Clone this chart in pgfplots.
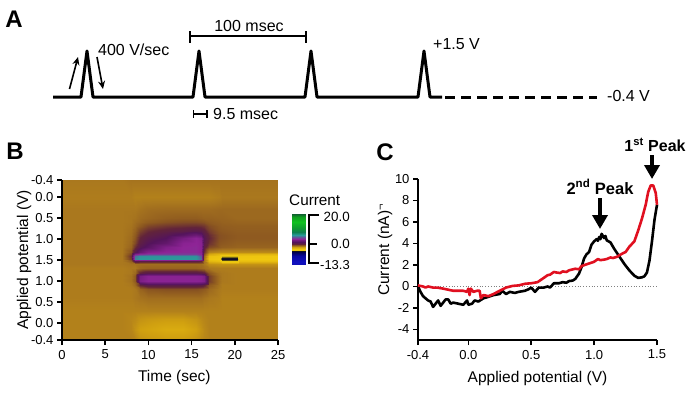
\documentclass[border=0pt]{standalone}
\usepackage{fontspec}
\setmainfont{Liberation Sans}
\usepackage{pgfplots}
\pgfplotsset{compat=1.18}
\usetikzlibrary{arrows.meta}
\pgfplotsset{
  colormap={cur}{
    rgb255(0pt)=(16,16,184);
    rgb255(13pt)=(16,16,192);
    rgb255(53pt)=(8,8,160);
    rgb255(81pt)=(0,0,80);
    rgb255(89pt)=(16,16,32);
    rgb255(94pt)=(232,200,16);
    rgb255(100pt)=(240,200,16);
    rgb255(111pt)=(208,160,16);
    rgb255(120pt)=(170,120,30);
    rgb255(127pt)=(138,85,32);
    rgb255(135pt)=(98,36,58);
    rgb255(145pt)=(84,20,92);
    rgb255(158pt)=(116,28,126);
    rgb255(168pt)=(142,36,150);
    rgb255(179pt)=(94,90,154);
    rgb255(193pt)=(42,154,154);
    rgb255(213pt)=(15,128,80);
    rgb255(243pt)=(15,154,48);
    rgb255(283pt)=(16,192,32);
    rgb255(313pt)=(16,160,32);
    rgb255(333pt)=(16,96,48);
  },
}
\begin{document}
\begin{tikzpicture}
\useasboundingbox (0,0) rectangle (690pt,394pt);
% overlay axis in picture pixels
\begin{axis}[at={(0pt,0pt)},anchor=south west,scale only axis,width=690pt,height=394pt,
  xmin=0,xmax=690,ymin=0,ymax=394,y dir=reverse,hide axis,clip=false]
% panel A waveform
\addplot[black,line width=3pt,line join=round] coordinates {(53,97)(81,97)(87,51)(93,97)(193,97)(199,51)(205,97)(305,97)(311,51)(317,97)(418,97)(424,51)(430,97)(442,97)};
\addplot[black,line width=3pt,dash pattern=on 10pt off 6pt] coordinates {(445,97)(597,97)};
\addplot[black,line width=1.6pt,-{Stealth[length=8pt,width=7pt]}] coordinates {(69.5,89)(78,57)};
\addplot[black,line width=1.6pt,-{Stealth[length=8pt,width=7pt]}] coordinates {(97,57)(103,89)};
\addplot[black,line width=1.5pt] coordinates {(190,31)(190,43)};
\addplot[black,line width=1.5pt] coordinates {(190,36)(306,36)};
\addplot[black,line width=1.5pt] coordinates {(306,31)(306,43)};
\addplot[black,line width=1.5pt] coordinates {(193.5,110)(193.5,118)};
\addplot[black,line width=1.5pt] coordinates {(193.5,114)(207,114)};
\addplot[black,line width=1.5pt] coordinates {(207,110)(207,118)};
% colour bar bracket
\addplot[black,line width=1.8pt] coordinates {(319,215)(309,215)(309,263)(319,263)};
\addplot[black,line width=1.8pt] coordinates {(309,244)(317,244)};
% arrows of panel C
\addplot[black,line width=4pt,-{Triangle[length=14pt,width=15pt]}] coordinates {(652,155)(652,179)};
\addplot[black,line width=4pt,-{Triangle[length=14pt,width=15pt]}] coordinates {(600,198)(600,229)};
% text
\node[font=\fontsize{24}{24}\selectfont\bfseries] at (axis cs:14,19) {A};
\node[font=\fontsize{24}{24}\selectfont\bfseries] at (axis cs:15,151) {B};
\node[font=\fontsize{24}{24}\selectfont\bfseries] at (axis cs:385,152) {C};
\node[font=\fontsize{16}{16}\selectfont,anchor=west,inner sep=0pt] at (axis cs:98,50) {400 V/sec};
\node[font=\fontsize{16}{16}\selectfont,anchor=center,inner sep=0pt] at (axis cs:249,26) {100 msec};
\node[font=\fontsize{16}{16}\selectfont,anchor=west,inner sep=0pt] at (axis cs:213,114) {9.5 msec};
\node[font=\fontsize{16}{16}\selectfont,anchor=west,inner sep=0pt] at (axis cs:433,44) {+1.5 V};
\node[font=\fontsize{16}{16}\selectfont,anchor=west,inner sep=0pt] at (axis cs:607,96) {-0.4 V};
\node[font=\fontsize{15.3}{16}\selectfont,anchor=west,inner sep=0pt] at (axis cs:289,200) {Current};
\node[font=\fontsize{13.4}{14}\selectfont,anchor=east,inner sep=0pt] at (axis cs:350,217) {20.0};
\node[font=\fontsize{13.4}{14}\selectfont,anchor=east,inner sep=0pt] at (axis cs:350,244) {0.0};
\node[font=\fontsize{13}{14}\selectfont,anchor=east,inner sep=0pt] at (axis cs:350,265) {-13.3};
\node[font=\fontsize{16.5}{17}\selectfont\bfseries,anchor=center,inner sep=0pt] at (axis cs:600,187) {2\textsuperscript{nd} Peak};
\node[font=\fontsize{16}{17}\selectfont\bfseries,anchor=center,inner sep=0pt] at (axis cs:655,145) {1\textsuperscript{st} Peak};
\end{axis}
% panel B
\begin{axis}[at={(62pt,54pt)},anchor=south west,scale only axis,width=216pt,height=160pt,
  view={0}{90},xmin=0,xmax=25,ymin=0,ymax=3.8,axis on top,
  colormap name=cur,point meta min=-13.3,point meta max=20,
  axis x line=bottom,axis y line=left,axis line style={-,line width=1.8pt},
  tick align=outside,major tick length=5pt,tick style={black,line width=1.5pt},
  xtick={0,5,10,15,20,25},
  ytick={0,0.4,0.9,1.4,1.9,2.4,2.9,3.4,3.8},
  yticklabels={-0.4,0.0,0.5,1.0,1.5,1.0,0.5,0.0,-0.4},
  /pgf/number format/assume math mode=true,
  tick label style={font=\fontsize{13}{13}\selectfont},
  xticklabel style={yshift=-1.5pt},
  xlabel={Time (sec)},ylabel={Applied potential (V)},
  label style={font=\fontsize{15.5}{16}\selectfont},
  xlabel style={at={(axis description cs:0.52,0)},anchor=center,yshift=-37pt},
  ylabel style={at={(axis description cs:0,0.5)},anchor=center,yshift=38pt},
]
\addplot3[surf,shader=interp,mesh/cols=17] coordinates {
(0,3.8,-1.3)(7,3.8,-1.3)(8,3.8,-1.2)(8.4,3.8,-1.2)(9,3.8,-1.2)(10,3.8,-1.2)(12,3.8,-1.2)(14,3.8,-1.2)(15.5,3.8,-1.2)(16.1,3.8,-1.2)(16.4,3.8,-1.2)(17,3.8,-1.2)(18.2,3.8,-1.2)(18.5,3.8,-1.2)(20.2,3.8,-1.2)(20.5,3.8,-1.2)(25,3.8,-1.2)
(0,3.4,-1.4)(7,3.4,-1.4)(8,3.4,-1.4)(8.4,3.4,-1.5)(9,3.4,-1.5)(10,3.4,-1.5)(12,3.4,-1.5)(14,3.4,-1.5)(15.5,3.4,-1.5)(16.1,3.4,-1.5)(16.4,3.4,-1.5)(17,3.4,-1.5)(18.2,3.4,-1.4)(18.5,3.4,-1.3)(20.2,3.4,-1.3)(20.5,3.4,-1.3)(25,3.4,-1.3)
(0,3.1,-1.3)(7,3.1,-1.3)(8,3.1,-1.3)(8.4,3.1,-1.3)(9,3.1,-1.2)(10,3.1,-1.1)(12,3.1,-1.05)(14,3.1,-1.05)(15.5,3.1,-1.05)(16.1,3.1,-1.05)(16.4,3.1,-1.05)(17,3.1,-1.05)(18.2,3.1,-1.0)(18.5,3.1,-1.0)(20.2,3.1,-1.0)(20.5,3.1,-1.0)(25,3.1,-1.0)
(0,2.9,-1.3)(7,2.9,-1.3)(8,2.9,-1.25)(8.4,2.9,-1.2)(9,2.9,-1.05)(10,2.9,-0.95)(12,2.9,-0.8)(14,2.9,-0.75)(15.5,2.9,-0.75)(16.1,2.9,-0.8)(16.4,2.9,-0.85)(17,2.9,-0.85)(18.2,2.9,-0.9)(18.5,2.9,-0.9)(20.2,2.9,-1)(20.5,2.9,-1)(25,2.9,-1)
(0,2.8,-1.3)(7,2.8,-1.3)(8,2.8,-1.25)(8.4,2.8,-1.1)(9,2.8,-0.95)(10,2.8,-0.75)(12,2.8,-0.55)(14,2.8,-0.45)(15.5,2.8,-0.45)(16.1,2.8,-0.5)(16.4,2.8,-0.55)(17,2.8,-0.7)(18.2,2.8,-0.8)(18.5,2.8,-0.85)(20.2,2.8,-0.9)(20.5,2.8,-0.9)(25,2.8,-0.9)
(0,2.7,-1.3)(7,2.7,-1.3)(8,2.7,-1.2)(8.4,2.7,-1)(9,2.7,-0.7)(10,2.7,-0.35)(12,2.7,-0.1)(14,2.7,0)(15.5,2.7,0.05)(16.1,2.7,0)(16.4,2.7,-0.1)(17,2.7,-0.45)(18.2,2.7,-0.7)(18.5,2.7,-0.75)(20.2,2.7,-0.8)(20.5,2.7,-0.8)(25,2.7,-0.8)
(0,2.6,-1.3)(7,2.6,-1.3)(8,2.6,-1.15)(8.4,2.6,-0.85)(9,2.6,-0.3)(10,2.6,0.1)(12,2.6,0.4)(14,2.6,0.6)(15.5,2.6,0.8)(16.1,2.6,0.7)(16.4,2.6,0.4)(17,2.6,-0.2)(18.2,2.6,-0.6)(18.5,2.6,-0.65)(20.2,2.6,-0.75)(20.5,2.6,-0.75)(25,2.6,-0.75)
(0,2.5,-1.3)(7,2.5,-1.3)(8,2.5,-1.1)(8.4,2.5,-0.7)(9,2.5,0)(10,2.5,0.4)(12,2.5,0.9)(14,2.5,1.5)(15.5,2.5,2.2)(16.1,2.5,1.8)(16.4,2.5,0.8)(17,2.5,0.1)(18.2,2.5,-0.5)(18.5,2.5,-0.55)(20.2,2.5,-0.7)(20.5,2.5,-0.7)(25,2.5,-0.7)
(0,2.42,-1.3)(7,2.42,-1.3)(8,2.42,-1.05)(8.4,2.42,-0.6)(9,2.42,0.2)(10,2.42,0.7)(12,2.42,1.2)(14,2.42,2.6)(15.5,2.42,3.4)(16.1,2.42,3)(16.4,2.42,1)(17,2.42,0.2)(18.2,2.42,-0.5)(18.5,2.42,-0.55)(20.2,2.42,-0.7)(20.5,2.42,-0.7)(25,2.42,-0.7)
(0,2.3,-1.3)(7,2.3,-1.3)(8,2.3,-1)(8.4,2.3,-0.4)(9,2.3,0.5)(10,2.3,1.1)(12,2.3,1.8)(14,2.3,3.3)(15.5,2.3,3.5)(16.1,2.3,3.3)(16.4,2.3,0.8)(17,2.3,0)(18.2,2.3,-0.6)(18.5,2.3,-0.65)(20.2,2.3,-0.8)(20.5,2.3,-0.8)(25,2.3,-0.8)
(0,2.2,-1.3)(7,2.2,-1.3)(8,2.2,-0.9)(8.4,2.2,0)(9,2.2,0.9)(10,2.2,1.5)(12,2.2,2.9)(14,2.2,3.5)(15.5,2.2,3.6)(16.1,2.2,3.3)(16.4,2.2,0.5)(17,2.2,-0.4)(18.2,2.2,-0.7)(18.5,2.2,-0.8)(20.2,2.2,-0.9)(20.5,2.2,-0.9)(25,2.2,-0.9)
(0,2.1,-1.3)(7,2.1,-1.3)(8,2.1,-0.6)(8.4,2.1,0.8)(9,2.1,2)(10,2.1,3)(12,2.1,3.5)(14,2.1,3.6)(15.5,2.1,3.6)(16.1,2.1,3.3)(16.4,2.1,0)(17,2.1,-1.5)(18.2,2.1,-1.7)(18.5,2.1,-1.7)(20.2,2.1,-1.7)(20.5,2.1,-1.7)(25,2.1,-1.7)
(0,2.04,-1.3)(7,2.04,-1.3)(8,2.04,-0.3)(8.4,2.04,3)(9,2.04,3.7)(10,2.04,4)(12,2.04,4)(14,2.04,4)(15.5,2.04,4)(16.1,2.04,3.6)(16.4,2.04,-0.5)(17,2.04,-2.4)(18.2,2.04,-2.8)(18.5,2.04,-2.8)(20.2,2.04,-2.8)(20.5,2.04,-2.8)(25,2.04,-2.8)
(0,2.0,-1.3)(7,2.0,-1.3)(8,2.0,0)(8.4,2.0,5)(9,2.0,5.8)(10,2.0,5.8)(12,2.0,5.8)(14,2.0,5.8)(15.5,2.0,5.8)(16.1,2.0,4.5)(16.4,2.0,-1)(17,2.0,-3.1)(18.2,2.0,-3.2)(18.5,2.0,-3.95)(20.2,2.0,-3.95)(20.5,2.0,-3.2)(25,2.0,-3.3)
(0,1.93,-1.3)(7,1.93,-1.3)(8,1.93,-0.2)(8.4,1.93,5.5)(9,1.93,6)(10,1.93,6)(12,1.93,6)(14,1.93,6)(15.5,1.93,6)(16.1,1.93,5)(16.4,1.93,-1.2)(17,1.93,-3.2)(18.2,1.93,-3.3)(18.5,1.93,-4.6)(20.2,1.93,-4.6)(20.5,1.93,-3.3)(25,1.93,-3.3)
(0,1.88,-1.3)(7,1.88,-1.3)(8,1.88,-0.8)(8.4,1.88,1)(9,1.88,0.6)(10,1.88,0.6)(12,1.88,0.6)(14,1.88,0.6)(15.5,1.88,0.6)(16.1,1.88,0.4)(16.4,1.88,-1.2)(17,1.88,-2.8)(18.2,1.88,-3)(18.5,1.88,-3.9)(20.2,1.88,-3.9)(20.5,1.88,-3)(25,1.88,-3)
(0,1.8,-1.3)(7,1.8,-1.3)(8,1.8,-1.2)(8.4,1.8,-1.2)(9,1.8,-1.1)(10,1.8,-1.1)(12,1.8,-1.1)(14,1.8,-1.1)(15.5,1.8,-1.1)(16.1,1.8,-1.1)(16.4,1.8,-1.3)(17,1.8,-1.8)(18.2,1.8,-1.9)(18.5,1.8,-1.9)(20.2,1.8,-1.9)(20.5,1.8,-1.9)(25,1.8,-1.9)
(0,1.7,-1.4)(7,1.7,-1.4)(8,1.7,-1.3)(8.4,1.7,-1.3)(9,1.7,-1)(10,1.7,-0.9)(12,1.7,-0.9)(14,1.7,-0.9)(15.5,1.7,-0.9)(16.1,1.7,-1)(16.4,1.7,-1.1)(17,1.7,-1.3)(18.2,1.7,-1.4)(18.5,1.7,-1.4)(20.2,1.7,-1.4)(20.5,1.7,-1.4)(25,1.7,-1.4)
(0,1.6,-1.4)(7,1.6,-1.4)(8,1.6,-1.3)(8.4,1.6,-1)(9,1.6,0.3)(10,1.6,0.8)(12,1.6,0.8)(14,1.6,0.8)(15.5,1.6,0.8)(16.1,1.6,0.6)(16.4,1.6,0.4)(17,1.6,-0.6)(18.2,1.6,-1.2)(18.5,1.6,-1.3)(20.2,1.6,-1.4)(20.5,1.6,-1.4)(25,1.6,-1.4)
(0,1.53,-1.4)(7,1.53,-1.4)(8,1.53,-1.2)(8.4,1.53,-0.7)(9,1.53,2.6)(10,1.53,3.3)(12,1.53,3.3)(14,1.53,3.3)(15.5,1.53,3.3)(16.1,1.53,3.2)(16.4,1.53,2.8)(17,1.53,-0.2)(18.2,1.53,-1.1)(18.5,1.53,-1.3)(20.2,1.53,-1.4)(20.5,1.53,-1.4)(25,1.53,-1.4)
(0,1.4,-1.4)(7,1.4,-1.4)(8,1.4,-1.2)(8.4,1.4,-0.7)(9,1.4,2.8)(10,1.4,3.4)(12,1.4,3.4)(14,1.4,3.4)(15.5,1.4,3.4)(16.1,1.4,3.3)(16.4,1.4,3)(17,1.4,-0.2)(18.2,1.4,-1.1)(18.5,1.4,-1.3)(20.2,1.4,-1.4)(20.5,1.4,-1.4)(25,1.4,-1.4)
(0,1.3,-1.4)(7,1.3,-1.4)(8,1.3,-1.3)(8.4,1.3,-1)(9,1.3,0.2)(10,1.3,0.7)(12,1.3,0.7)(14,1.3,0.7)(15.5,1.3,0.7)(16.1,1.3,0.6)(16.4,1.3,0.3)(17,1.3,-0.7)(18.2,1.3,-1.2)(18.5,1.3,-1.4)(20.2,1.3,-1.4)(20.5,1.3,-1.4)(25,1.3,-1.4)
(0,1.2,-1.4)(7,1.2,-1.4)(8,1.2,-1.4)(8.4,1.2,-1.3)(9,1.2,-0.9)(10,1.2,-0.6)(12,1.2,-0.5)(14,1.2,-0.5)(15.5,1.2,-0.5)(16.1,1.2,-0.6)(16.4,1.2,-0.7)(17,1.2,-1)(18.2,1.2,-1.3)(18.5,1.2,-1.4)(20.2,1.2,-1.4)(20.5,1.2,-1.4)(25,1.2,-1.4)
(0,1.0,-1.4)(7,1.0,-1.4)(8,1.0,-1.4)(8.4,1.0,-1.3)(9,1.0,-1.2)(10,1.0,-1.1)(12,1.0,-1.1)(14,1.0,-1.1)(15.5,1.0,-1.1)(16.1,1.0,-1.1)(16.4,1.0,-1.2)(17,1.0,-1.3)(18.2,1.0,-1.4)(18.5,1.0,-1.5)(20.2,1.0,-1.5)(20.5,1.0,-1.5)(25,1.0,-1.5)
(0,0.7,-1.5)(7,0.7,-1.5)(8,0.7,-1.5)(8.4,0.7,-1.5)(9,0.7,-1.5)(10,0.7,-1.5)(12,0.7,-1.5)(14,0.7,-1.5)(15.5,0.7,-1.5)(16.1,0.7,-1.5)(16.4,0.7,-1.5)(17,0.7,-1.5)(18.2,0.7,-1.5)(18.5,0.7,-1.5)(20.2,0.7,-1.5)(20.5,0.7,-1.5)(25,0.7,-1.5)
(0,0.5,-1.5)(7,0.5,-1.5)(8,0.5,-1.6)(8.4,0.5,-1.7)(9,0.5,-1.9)(10,0.5,-2)(12,0.5,-2.1)(14,0.5,-2.1)(15.5,0.5,-1.9)(16.1,0.5,-1.7)(16.4,0.5,-1.6)(17,0.5,-1.5)(18.2,0.5,-1.5)(18.5,0.5,-1.5)(20.2,0.5,-1.5)(20.5,0.5,-1.5)(25,0.5,-1.5)
(0,0.25,-1.5)(7,0.25,-1.5)(8,0.25,-1.6)(8.4,0.25,-1.9)(9,0.25,-2.2)(10,0.25,-2.3)(12,0.25,-2.5)(14,0.25,-2.5)(15.5,0.25,-2.2)(16.1,0.25,-1.9)(16.4,0.25,-1.7)(17,0.25,-1.5)(18.2,0.25,-1.5)(18.5,0.25,-1.5)(20.2,0.25,-1.5)(20.5,0.25,-1.5)(25,0.25,-1.5)
(0,0,-1.5)(7,0,-1.5)(8,0,-1.5)(8.4,0,-1.6)(9,0,-1.9)(10,0,-2)(12,0,-2.1)(14,0,-2.1)(15.5,0,-1.9)(16.1,0,-1.7)(16.4,0,-1.6)(17,0,-1.5)(18.2,0,-1.5)(18.5,0,-1.5)(20.2,0,-1.5)(20.5,0,-1.5)(25,0,-1.5)
};
\end{axis}
% colour bar
\begin{axis}[at={(292pt,130pt)},anchor=south west,scale only axis,width=13pt,height=50pt,
  view={0}{90},xmin=0,xmax=1,ymin=-13.3,ymax=20,hide axis,
  colormap name=cur,point meta min=-13.3,point meta max=20]
\addplot3[surf,shader=interp,mesh/cols=2] coordinates {
(0,-13.3,-13.3)(1,-13.3,-13.3)
(0,-12,-12)(1,-12,-12)
(0,-8,-8)(1,-8,-8)
(0,-5.2,-5.2)(1,-5.2,-5.2)
(0,-4.4,-4.4)(1,-4.4,-4.4)
(0,-3.9,-3.9)(1,-3.9,-3.9)
(0,-3.3,-3.3)(1,-3.3,-3.3)
(0,-2.2,-2.2)(1,-2.2,-2.2)
(0,-1.3,-1.3)(1,-1.3,-1.3)
(0,-0.6,-0.6)(1,-0.6,-0.6)
(0,0.2,0.2)(1,0.2,0.2)
(0,1.2,1.2)(1,1.2,1.2)
(0,2.5,2.5)(1,2.5,2.5)
(0,3.5,3.5)(1,3.5,3.5)
(0,4.6,4.6)(1,4.6,4.6)
(0,6,6)(1,6,6)
(0,8,8)(1,8,8)
(0,11,11)(1,11,11)
(0,15,15)(1,15,15)
(0,18,18)(1,18,18)
(0,20,20)(1,20,20)
};
\end{axis}
% panel C
\begin{axis}[at={(418pt,54pt)},anchor=south west,scale only axis,width=239pt,height=161pt,
  xmin=-0.4,xmax=1.5,ymin=-4.98,ymax=10,clip=false,
  axis x line=bottom,axis y line=left,axis line style={-,line width=1.8pt},
  tick align=outside,major tick length=5pt,tick style={black,line width=1.5pt},
  xtick={-0.4,0,0.5,1,1.5},xticklabels={-0.4,0.0,0.5,1.0,1.5},
  ytick={-4,-2,0,2,4,6,8,10},yticklabels={-4,-2,0,2,4,6,8,10},
  tick label style={font=\fontsize{13}{13}\selectfont},
  xticklabel style={yshift=-1.5pt},
  xlabel={Applied potential (V)},ylabel={Current (nA)\textsuperscript{¬}},
  label style={font=\fontsize{15.5}{16}\selectfont},
  xlabel style={at={(axis description cs:0.5,0)},anchor=center,yshift=-38.5pt},
  ylabel style={at={(axis description cs:0,0.56)},anchor=center,yshift=33pt},
]
\addplot[gray,dotted,line width=0.8pt] coordinates {(-0.4,0)(1.5,0)};
\addplot[black,line width=2.6pt,line join=round] coordinates {(-0.4,0)(-0.38,-0.5)(-0.36,-0.9)(-0.34,-1.1)(-0.32,-1.3)(-0.30,-1.4)(-0.28,-1.9)(-0.26,-1.6)(-0.24,-1.3)(-0.22,-1.8)(-0.20,-1.5)(-0.18,-1.2)(-0.16,-1.2)(-0.14,-1.6)(-0.12,-1.5)(-0.08,-1.6)(-0.04,-1.7)(-0.01,-1.3)(0,-1.7)(0.03,-1.6)(0.05,-1.3)(0.08,-1.4)(0.12,-1.1)(0.15,-1)(0.2,-0.8)(0.25,-0.7)(0.27,-0.4)(0.3,-0.7)(0.33,-0.5)(0.37,-0.6)(0.4,-0.5)(0.45,-0.4)(0.48,-0.25)(0.5,-0.1)(0.53,-0.5)(0.56,-0.1)(0.6,-0.1)(0.63,0)(0.65,-0.1)(0.68,0.3)(0.72,0.3)(0.75,0.4)(0.78,0.35)(0.8,0.5)(0.83,0.55)(0.85,0.7)(0.88,1.2)(0.9,1.8)(0.92,2.6)(0.94,3.0)(0.96,3.2)(0.98,3.9)(1.0,4.2)(1.02,4.4)(1.03,4.25)(1.04,4.6)(1.05,4.4)(1.06,4.9)(1.08,4.5)(1.09,4.7)(1.1,4.3)(1.13,4.1)(1.16,3.5)(1.2,2.8)(1.24,2.1)(1.28,1.5)(1.32,1.0)(1.35,0.8)(1.38,0.85)(1.4,0.95)(1.42,1.3)(1.44,2.4)(1.46,4.2)(1.48,6.2)(1.5,7.6)};
\addplot[color={rgb,255:red,224;green,16;blue,32},line width=2.6pt,line join=round] coordinates {(-0.4,0.1)(-0.36,0)(-0.34,-0.1)(-0.32,0)(-0.28,-0.1)(-0.25,-0.1)(-0.2,-0.2)(-0.16,-0.3)(-0.12,-0.4)(-0.08,-0.4)(-0.04,-0.4)(-0.01,-0.5)(0,-0.2)(0.01,-0.8)(0.02,-0.2)(0.04,-0.5)(0.07,-0.4)(0.09,-0.4)(0.1,-1.1)(0.12,-0.8)(0.16,-0.9)(0.2,-0.7)(0.25,-0.4)(0.3,-0.1)(0.35,0.05)(0.4,0.1)(0.45,0.25)(0.5,0.3)(0.55,0.4)(0.6,0.8)(0.63,1.05)(0.65,1.1)(0.68,1.35)(0.7,1.3)(0.73,1.25)(0.75,1.4)(0.78,1.35)(0.8,1.5)(0.85,1.65)(0.88,1.6)(0.9,1.9)(0.95,2.1)(1.0,2.3)(1.03,2.55)(1.05,2.45)(1.08,2.5)(1.1,2.55)(1.13,2.7)(1.15,2.65)(1.18,2.75)(1.2,2.9)(1.23,3.1)(1.25,3.2)(1.28,3.7)(1.32,4.2)(1.35,5.2)(1.38,6.3)(1.41,7.6)(1.43,8.8)(1.45,9.4)(1.47,9.4)(1.49,8.7)(1.5,7.6)};
\end{axis}
\end{tikzpicture}
\end{document}
